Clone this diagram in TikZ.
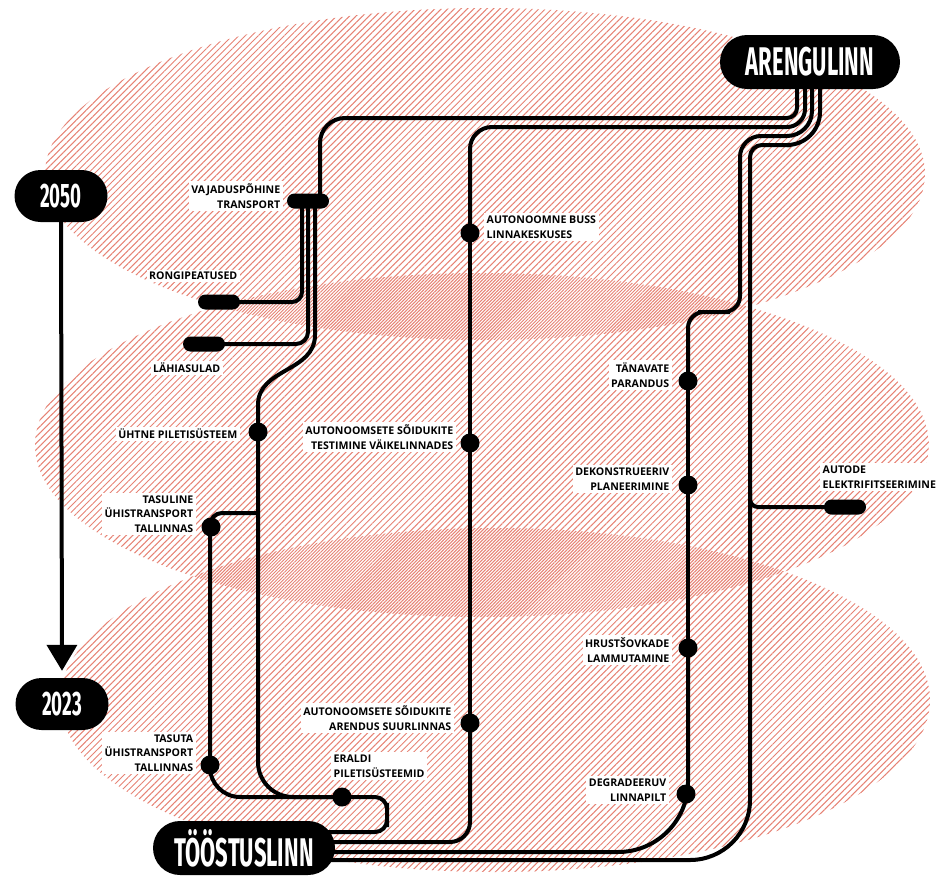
\documentclass[tikz,border=0pt]{standalone}
\usepackage{fontspec}
\newfontfamily\lblfont{Open Sans}
\newfontfamily\pillfont{Fira Sans}[FakeStretch=0.55,BoldFeatures={FakeStretch=0.55}]
\usetikzlibrary{patterns.meta,shapes.misc,arrows.meta}
\pgfdeclarelayer{hatch}
\pgfdeclarelayer{routes}
\pgfsetlayers{hatch,routes,main}
\definecolor{hatch}{RGB}{230,130,116}

\begin{document}
\begin{tikzpicture}[x=1pt,y=-1pt,
  route/.style={line width=4pt,black},
  zoneA/.style={pattern={Lines[angle=45,distance=4.6pt,line width=1pt]},pattern color=hatch},
  zoneB/.style={pattern={Lines[angle=45,distance=4.6pt,line width=1pt,xshift=3.25pt]},pattern color=hatch},
  bigpill/.style={rounded rectangle,fill=black,text=white,inner sep=0pt,
    minimum height=54pt,font=\pillfont\bfseries\fontsize{40}{40}\selectfont},
  yearpill/.style={rounded rectangle,fill=black,text=white,inner sep=0pt,
    minimum width=93pt,minimum height=52pt,font=\pillfont\bfseries\fontsize{34}{34}\selectfont},
  stationpill/.style={rounded rectangle,fill=black,inner sep=0pt,minimum width=42pt,minimum height=15pt},
  stopdot/.style={circle,fill=black,inner sep=0pt,minimum size=19pt},
  lbl/.style={fill=white,inner sep=2.5pt,align=right,font=\lblfont\bfseries\fontsize{10.6}{14.6}\selectfont},
  lbll/.style={lbl,align=left}
]
\useasboundingbox (0,0) rectangle (950,886);

% hatched time zones
\begin{pgfonlayer}{hatch}
  \path[zoneA] (485,174) ellipse [x radius=440pt, y radius=166pt];
  \path[zoneB] (482,445) ellipse [x radius=447pt, y radius=172pt];
  \path[zoneA] (495,700) ellipse [x radius=435pt, y radius=172pt];
\end{pgfonlayer}

% terminals and years
\node[bigpill,minimum width=180pt] (aren) at (810,62) {ARENGULINN};
\node[bigpill,minimum width=182pt] (toos) at (244,848) {TÖÖSTUSLINN};
\node[yearpill] (y2050) at (61,196) {2050};
\node[yearpill] (y2023) at (62,704) {2023};
\draw[line width=4pt,-{Triangle[width=30pt,length=26pt]}] (y2050.south) -- ([yshift=7pt]y2023.north);

% station pills
\node[stationpill] (vaj) at (308,201) {};
\node[stationpill] (rong) at (219,302) {};
\node[stationpill] (lah) at (204,344) {};
\node[stationpill] (auto) at (845,507) {};

% stops
\node[stopdot] (uht) at (258,432) {};
\node[stopdot] (tasl) at (211,527) {};
\node[stopdot] (tast) at (210,765) {};
\node[stopdot] (era) at (342,797) {};
\node[stopdot] (bus) at (470,233) {};
\node[stopdot] (test) at (470,443) {};
\node[stopdot] (arend) at (470,723) {};
\node[stopdot] (tan) at (688,381) {};
\node[stopdot] (dek) at (688,485) {};
\node[stopdot] (hru) at (688,648) {};
\node[stopdot] (deg) at (686,794) {};

% labels
\node[lbl,anchor=east] at (283,196) {VAJADUSPÕHINE\\TRANSPORT};
\node[lbl,anchor=east] at (240,276) {RONGIPEATUSED};
\node[lbl,anchor=east] at (223,368) {LÄHIASULAD};
\node[lbl,anchor=east] at (240,434) {ÜHTNE PILETISÜSTEEM};
\node[lbl,anchor=east] at (196,514) {TASULINE\\ÜHISTRANSPORT\\TALLINNAS};
\node[lbl,anchor=east] at (196,753) {TASUTA\\ÜHISTRANSPORT\\TALLINNAS};
\node[lbll,anchor=west] at (331,766) {ERALDI\\PILETISÜSTEEMID};
\node[lbl,anchor=east] at (454,718) {AUTONOOMSETE SÕIDUKITE\\ARENDUS SUURLINNAS};
\node[lbl,anchor=east] at (456,437) {AUTONOOMSETE SÕIDUKITE\\TESTIMINE VÄIKELINNADES};
\node[lbll,anchor=west] at (484,227) {AUTONOOMNE BUSS\\LINNAKESKUSES};
\node[lbl,anchor=east] at (672,375) {TÄNAVATE\\PARANDUS};
\node[lbl,anchor=east] at (672,479) {DEKONSTRUEERIV\\PLANEERIMINE};
\node[lbl,anchor=east] at (672,650) {HRUSTŠOVKADE\\LAMMUTAMINE};
\node[lbl,anchor=east] at (669,790) {DEGRADEERUV\\LINNAPILT};
\node[lbll,anchor=west] at (820,477) {AUTODE\\ELEKTRIFITSEERIMINE};

\begin{pgfonlayer}{routes}
  % line to the demand-based transport hub
  \draw[route,rounded corners=10pt] ([xshift=-13pt]aren.south) |- (560,118);
  \draw[route,rounded corners=25pt] (560,118) -| ([xshift=12pt]vaj.center);
  \draw[route,rounded corners=10pt] ([xshift=-6pt]vaj.center) |- (rong.center);
  \draw[route,rounded corners=12pt] (vaj.center) |- (lah.center);
  \draw[route] ([xshift=7pt]vaj.center) -- (315,335) .. controls (315,372) and (258,368) .. (258,405) -- (uht.center);
  \draw[route,rounded corners=35pt] (uht.center) |- (era.center);
  \draw[route,rounded corners=30pt] (era.center) -| (210,640);
  \draw[route,rounded corners=12pt] (210,640) |- (258,513);
  \draw[route,rounded corners=12pt] ([xshift=-15pt,yshift=16pt]toos.east) -| (387,815) |- (era.center);
  % autonomous vehicles line
  \draw[route,rounded corners=18pt] ([xshift=-5pt]aren.south) |- (640,127);
  \draw[route,rounded corners=22pt] (640,127) -| (bus.center);
  \draw[route] (bus.center) -- (test.center) -- (arend.center);
  \draw[route,rounded corners=20pt] (arend.center) |- ([xshift=-15pt,yshift=6pt]toos.east);
  % street and planning line
  \draw[route,rounded corners=25pt] ([xshift=2pt]aren.south) |- (775,136);
  \draw[route,rounded corners=21pt] (775,136) -| (740,220);
  \draw[route,rounded corners=16pt] (740,220) |- (714,312) -| (tan.center);
  \draw[route] (tan.center) -- (dek.center) -- (hru.center);
  \draw[route,rounded corners=70pt] (hru.center) |- ([xshift=-15pt,yshift=-4pt]toos.east);
  % electrification line
  \draw[route,rounded corners=33pt] ([xshift=10pt]aren.south) |- (790,145);
  \draw[route,rounded corners=12pt] (790,145) -| (750,300);
  \draw[route,rounded corners=60pt] (750,300) |- ([xshift=-15pt,yshift=-12pt]toos.east);
  \draw[route,rounded corners=8pt] (750,490) |- (auto.center);
\end{pgfonlayer}
\end{tikzpicture}
\end{document}
